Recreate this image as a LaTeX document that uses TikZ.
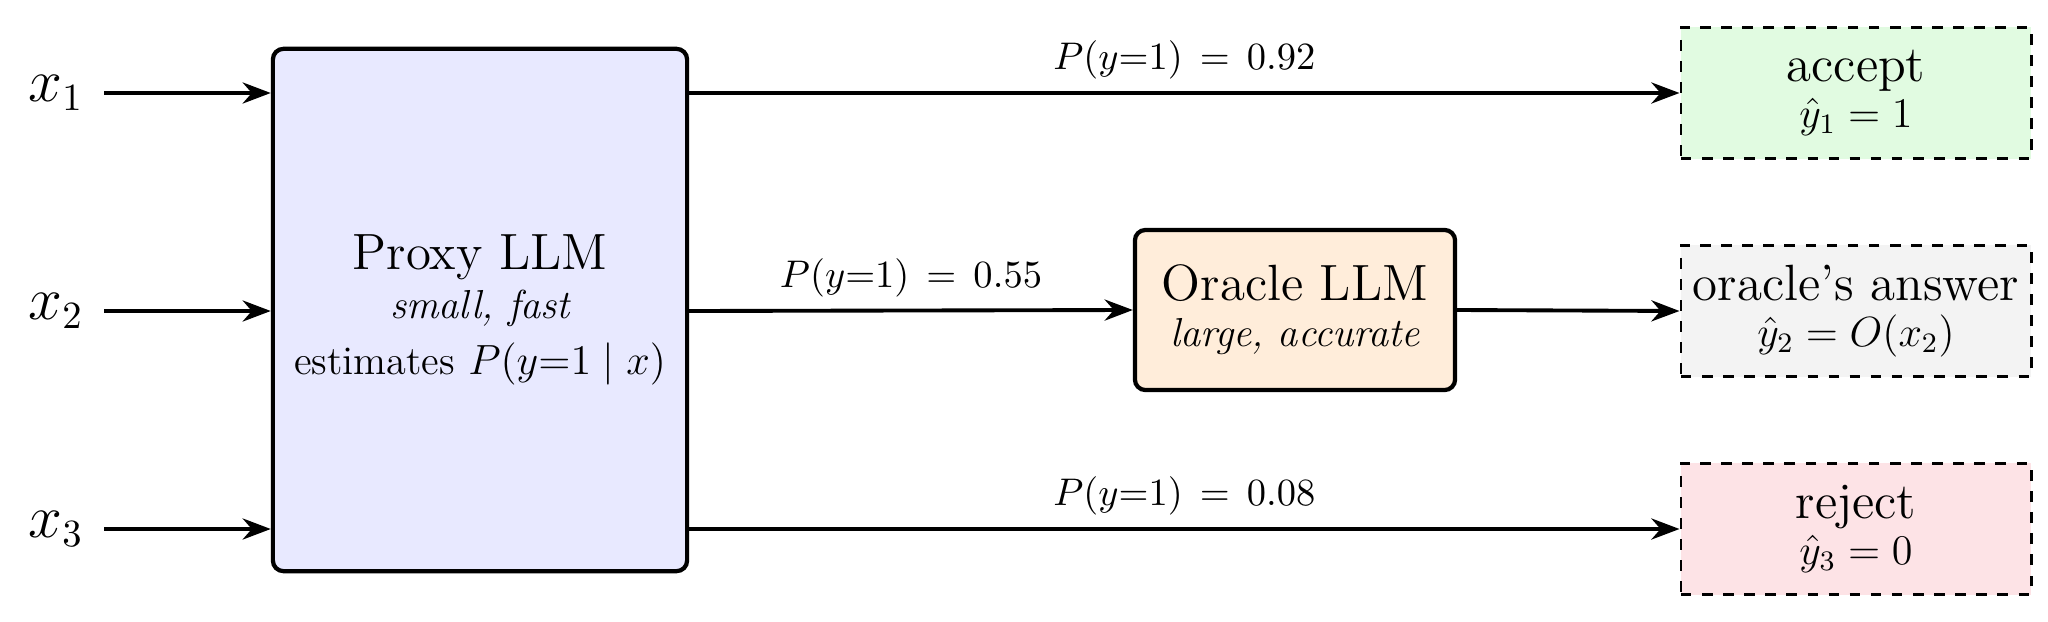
\documentclass[tikz,border=0pt]{standalone}
\usetikzlibrary{arrows.meta}
\begin{document}
\begin{tikzpicture}[x=0.01cm,y=-0.01cm,
  arr/.style={-{Stealth[length=8pt,width=6pt]},line width=1.1pt},
  box/.style={draw,line width=1.2pt,rounded corners=3pt,align=center},
  outbox/.style={draw,dashed,line width=0.8pt,minimum width=2.67cm,minimum height=1.0cm,align=center},
  big/.style={font=\fontsize{13.6}{16}\selectfont},
  lab/.style={font=\fontsize{11}{13}\selectfont,above}]
\useasboundingbox (0,0) rectangle (2048,621);
\definecolor{proxyc}{HTML}{E8E9FF}
\definecolor{oraclec}{HTML}{FFEDDA}
\definecolor{accc}{HTML}{E1FBE1}
\definecolor{ansc}{HTML}{F3F3F3}
\definecolor{rejc}{HTML}{FDE3E6}
\node[box,fill=proxyc,minimum width=4.14cm,minimum height=5.22cm] (proxy) at (480,310)
 {{\fontsize{14.5}{17}\selectfont Proxy LLM}\\[2pt]{\fontsize{11.5}{14}\selectfont\itshape small, fast}\\[4pt]{\fontsize{11.5}{14}\selectfont estimates $P(y{=}1\mid x)$}};
\node[box,fill=oraclec,minimum width=3.2cm,minimum height=1.6cm] (oracle) at (1295,310)
 {{\fontsize{14.5}{17}\selectfont Oracle LLM}\\[1pt]{\fontsize{11.5}{14}\selectfont\itshape large, accurate}};
\node[outbox,fill=accc,minimum width=3.5cm,minimum height=1.31cm] (acc) at (1856,93)
 {{\fontsize{14.5}{17}\selectfont accept}\\[1pt]{\fontsize{11.5}{14}\selectfont $\hat y_1=1$}};
\node[outbox,fill=ansc,minimum width=3.5cm,minimum height=1.31cm] (ans) at (1856,311)
 {{\fontsize{14.5}{17}\selectfont oracle's answer}\\[1pt]{\fontsize{11.5}{14}\selectfont $\hat y_2=O(x_2)$}};
\node[outbox,fill=rejc,minimum width=3.5cm,minimum height=1.31cm] (rej) at (1856,529)
 {{\fontsize{14.5}{17}\selectfont reject}\\[1pt]{\fontsize{11.5}{14}\selectfont $\hat y_3=0$}};
\node[font=\fontsize{16}{18}\selectfont] (x1) at (56,93) {$x_1$};
\node[font=\fontsize{16}{18}\selectfont] (x2) at (56,311) {$x_2$};
\node[font=\fontsize{16}{18}\selectfont] (x3) at (56,529) {$x_3$};
\coordinate (p1) at (proxy.west |- x1); \coordinate (p2) at (proxy.west |- x2); \coordinate (p3) at (proxy.west |- x3);
\coordinate (q1) at (proxy.east |- x1); \coordinate (q2) at (proxy.east |- x2); \coordinate (q3) at (proxy.east |- x3);
\draw[arr] (104,93) -- (p1);
\draw[arr] (104,311) -- (p2);
\draw[arr] (104,529) -- (p3);
\draw[arr] (q1) -- node[lab]{$P(y{=}1)\,=\,0.92$} (acc.west |- x1);
\draw[arr] (q2) -- node[lab]{$P(y{=}1)\,=\,0.55$} (oracle.west);
\draw[arr] (oracle.east) -- (ans.west);
\draw[arr] (q3) -- node[lab]{$P(y{=}1)\,=\,0.08$} (rej.west |- x3);
\end{tikzpicture}
\end{document}
